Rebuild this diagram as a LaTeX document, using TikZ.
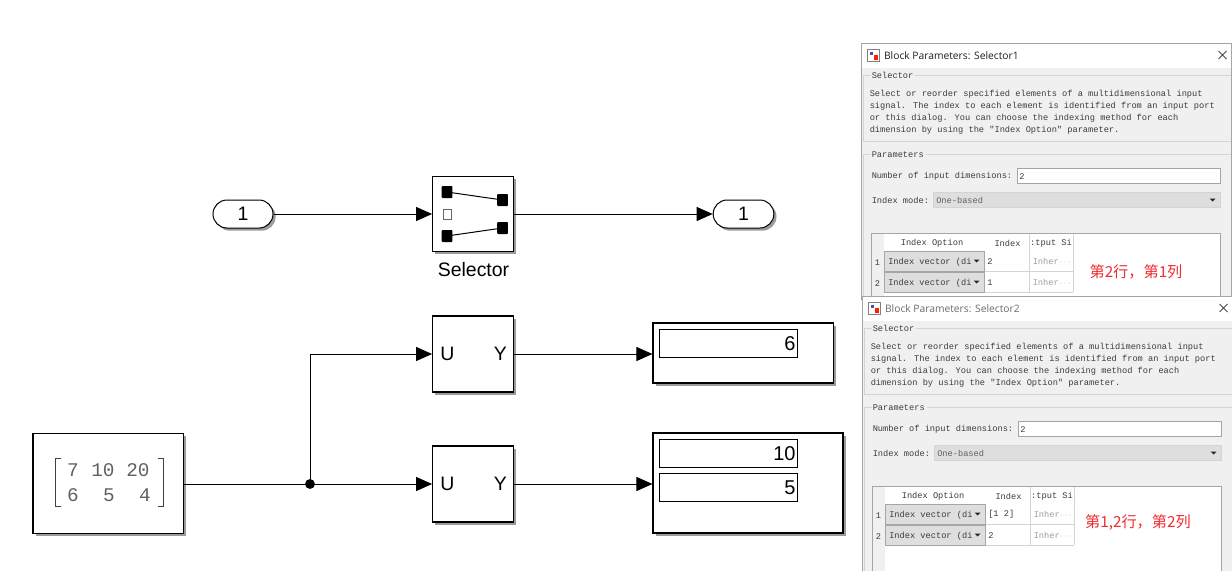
\documentclass[tikz,border=0pt]{standalone}
\usepackage{fontspec}
\setmainfont{Liberation Sans}
\newfontfamily\dlgmono{Liberation Mono}
\newfontfamily\dlgsans{Open Sans}
\newfontfamily\cjkfont{Noto Sans CJK SC}
\usetikzlibrary{shadows,arrows.meta}
\definecolor{dlgbg}{HTML}{F0F0F0}
\definecolor{dlgline}{HTML}{D4D4D4}
\definecolor{dlgedge}{HTML}{A5A5A5}
\definecolor{dlgtext}{HTML}{3C3C3C}
\definecolor{combo}{HTML}{DEDEDE}
\definecolor{redtxt}{HTML}{EE2B2F}
\tikzset{
  shadowed/.style={drop shadow={shadow xshift=2pt,shadow yshift=-2pt,opacity=.6,fill=black!65}},
  block/.style={draw=black,line width=.85pt,fill=white,shadowed},
  wire/.style={line width=.75pt,-{Triangle[length=12pt,width=10.5pt]}},
  plain/.style={line width=.75pt},
  port/.style={draw=black,line width=.75pt,fill=white,rounded corners=10.5pt,shadowed},
  lbl/.style={font=\fontsize{14.6}{15}\selectfont,inner sep=0pt},
  dlg/.style={font=\dlgmono\fontsize{6.5}{7.7}\selectfont,text=dlgtext,inner sep=0pt,anchor=west},
  dlgc/.style={dlg,anchor=center},
  ttl/.style={font=\dlgsans\fontsize{7.7}{9}\selectfont,inner sep=0pt,anchor=west},
  redlbl/.style={font=\cjkfont\fontsize{11.4}{12}\selectfont,text=redtxt,inner sep=0pt},
  frameline/.style={draw=dlgline,line width=.6pt},
  disp/.style={draw=black,line width=.75pt,fill=white,font=\fontsize{15}{16}\selectfont,inner sep=0pt},
  matnum/.style={font=\dlgmono\fontsize{14.5}{15}\selectfont,text=black!62,inner sep=0pt},
}
% #1 prefix, #2 title, #3 title colour, #4 local bottom, #5 first index, #6 second index
\newcommand{\paramdialog}[6]{%
  \fill[dlgbg] (861,43) rectangle (1232,#4);
  \fill[white] (861,44) rectangle (1232,68);
  \draw[dlgedge,line width=.6pt] (861,#4) -- (861,43) -- (1231,43) -- (1231,#4);
  % icon
  \fill[white,draw=black!50,line width=.5pt] (867.5,49.5) rectangle (879,61);
  \fill[blue!55!black!70] (869.5,51.5) rectangle (872.5,55);
  \fill[red!75!orange] (873.5,55) rectangle (877.5,60);
  \node[ttl,text=#3] (#1title) at (883.8,55.5) {#2};
  \draw[black!70,line width=.55pt] (1218.5,51) -- (1226.5,59) (1226.5,51) -- (1218.5,59);
  % Selector group
  \draw[frameline] (871,75.5) -- (863,75.5) -- (863,141.5) -- (1231,141.5);
  \draw[frameline] (915,75.5) -- (1231,75.5);
  \node[dlg] (#1grp) at (871.5,75.7) {Selector};
  \node[dlg] (#1d1) at (869.5,94.5) {Select or reorder specified elements of a multidimensional input};
  \node[dlg] (#1d2) at (869.5,106.5) {signal. The index to each element is identified from an input port};
  \node[dlg] (#1d3) at (869.5,118.5) {or this dialog. You can choose the indexing method for each};
  \node[dlg] (#1d4) at (869.5,130.5) {dimension by using the "Index Option" parameter.};
  % Parameters group
  \draw[frameline] (871,154) -- (863,154) -- (863,#4);
  \draw[frameline] (926,154) -- (1231,154);
  \node[dlg] (#1par) at (871.5,154.5) {Parameters};
  \node[dlg] (#1num) at (871.5,176) {Number of input dimensions:};
  \draw[fill=white,draw=dlgedge,line width=.6pt] (1017,168.5) rectangle (1220,183);
  \node[dlg] (#1numv) at (1019,176.5) {2};
  \node[dlg] (#1mode) at (871.5,200) {Index mode:};
  \draw[fill=combo,draw=dlgline,line width=.6pt] (933.5,192.5) rectangle (1220,207);
  \node[dlg,text=black!62] (#1modev) at (936,200.5) {One-based};
  \fill[black!85] (1209.5,198.5) -- (1215.5,198.5) -- (1212.5,201.5) -- cycle;
  % table
  \draw[fill=white,draw=dlgedge,line width=.6pt] (871.5,233) rectangle (1220,#4);
  \fill[dlgbg] (872,233.5) rectangle (883.5,#4);
  \node[dlgc] (#1h1) at (932,243.5) {Index Option};
  \node[dlgc] (#1h2) at (1007.5,243.5) {Index};
  \node[dlgc] (#1h3) at (1051,243.5) {:tput Si};
  \node[dlgc] (#1r1) at (877.5,262.5) {1};
  \node[dlgc] (#1r2) at (877.5,283.5) {2};
  \foreach \yy in {251,272}{
    \draw[fill=combo,draw=black!35,line width=.6pt] (884.5,\yy) rectangle (984,\yy+20);
    \fill[black!85] (973.5,\yy+8.5) -- (979.5,\yy+8.5) -- (976.5,\yy+11.5) -- cycle;
  }
  \node[dlg] (#1c1) at (888,262.5) {Index vector (di};
  \node[dlg] (#1c2) at (888,283.5) {Index vector (di};
  \draw[dlgline,line width=.6pt] (984.5,271.5) -- (1073,271.5) (984.5,292) -- (1073,292);
  \draw[dlgline,line width=.6pt] (1029.5,233.5) -- (1029.5,292) (1073,233.5) -- (1073,292);
  \node[dlg] (#1i1) at (987,261.5) {#5};
  \node[dlg] (#1i2) at (987,282.5) {#6};
  \node[dlg,text=black!38] (#1s1) at (1032.5,261.5) {Inher$\cdots$};
  \node[dlg,text=black!38] (#1s2) at (1032.5,282.5) {Inher$\cdots$};
}
\begin{document}
\begin{tikzpicture}[x=.75pt,y=-.75pt]
\useasboundingbox (0,0) rectangle (1232,571);
\fill[white] (0,0) rectangle (1232,571);

% ports
\node[port,minimum width=45pt,minimum height=21pt,inner sep=0pt,lbl] (inp) at (243,214) {1};
\node[port,minimum width=45.5pt,minimum height=21pt,inner sep=0pt,lbl] (outp) at (743.5,214) {1};

% selector block
\node[block,minimum width=60.5pt,minimum height=56.25pt,inner sep=0pt] (sel) at (473,213.7) {};
\node[lbl] (sellbl) at (473.5,269.5) {Selector};
\coordinate (tl) at (447,192);
\coordinate (tr) at (502.5,200);
\coordinate (bl) at (447,236);
\coordinate (br) at (502.5,228);
\draw[plain] (tl) -- (tr) (bl) -- (br);
\foreach \c in {tl,tr,bl,br}{\fill[black,rounded corners=.6pt] ([shift={(-5.3,-6)}]\c) rectangle ([shift={(5.3,6)}]\c);}
\draw[black!60,line width=.6pt,fill=white] (443,209) rectangle (451,219);

% U/Y blocks
\node[block,minimum width=60.5pt,minimum height=57pt,inner sep=0pt] (s1) at (473,354) {};
\node[lbl,anchor=west] (s1u) at (440,354) {U};
\node[lbl,anchor=east] (s1y) at (507,354) {Y};
\node[block,minimum width=60.5pt,minimum height=57pt,inner sep=0pt] (s2) at (473,484) {};
\node[lbl,anchor=west] (s2u) at (440,484) {U};
\node[lbl,anchor=east] (s2y) at (507,484) {Y};

% displays
\node[block,minimum width=135.5pt,minimum height=45pt,inner sep=0pt] (d1) at (743.3,353) {};
\node[disp,minimum width=103.5pt,minimum height=21pt,anchor=north west,align=right,text width=100.5pt] (d1a) at (659,329) {6};
\node[block,minimum width=142.5pt,minimum height=75pt,inner sep=0pt] (d2) at (748,483) {};
\node[disp,minimum width=103.5pt,minimum height=21pt,anchor=north west,align=right,text width=100.5pt] (d2a) at (659,439) {10};
\node[disp,minimum width=103.5pt,minimum height=21pt,anchor=north west,align=right,text width=100.5pt] (d2b) at (659,473) {5};

% constant
\node[block,minimum width=113pt,minimum height=75pt,inner sep=0pt] (src) at (108.3,483.3) {};
\draw[line width=.6pt,black!75] (61,458) -- (55.5,458) -- (55.5,506) -- (61,506);
\draw[line width=.6pt,black!75] (158,458) -- (163.5,458) -- (163.5,506) -- (158,506);
\node[matnum] (m11) at (73,470) {7};
\node[matnum] (m12) at (103,470) {10};
\node[matnum] (m13) at (138,470) {20};
\node[matnum] (m21) at (73,495) {6};
\node[matnum] (m22) at (109,495) {5};
\node[matnum] (m23) at (145,495) {4};

% connectors
\draw[wire] (inp.east) -- (sel.west |- inp.east);
\draw[wire] (sel.east |- outp.west) -- (outp.west);
\coordinate (jn) at (310,484);
\draw[plain] (src.east |- jn) -- (jn);
\draw[wire] (jn) -- (s2.west);
\draw[wire] (jn) -- (jn |- s1.west) -- (s1.west);
\fill[black] (jn) circle (3.7pt);
\draw[wire] (s1.east) -- (s1.east -| d1.west);
\draw[wire] (s2.east) -- (s2.east -| d2.west);

% dialogs
\paramdialog{a}{Block Parameters: Selector1}{black!88}{300}{2}{1}
\node[redlbl] (ared) at (1136,272) {第2行，第1列};
\begin{scope}[shift={(1,253)}]
\paramdialog{b}{Block Parameters: Selector2}{black!58}{318}{[1 2]}{2}
\node[redlbl] (bred) at (1137,270) {第1,2行，第2列};
\end{scope}
\end{tikzpicture}
\end{document}
